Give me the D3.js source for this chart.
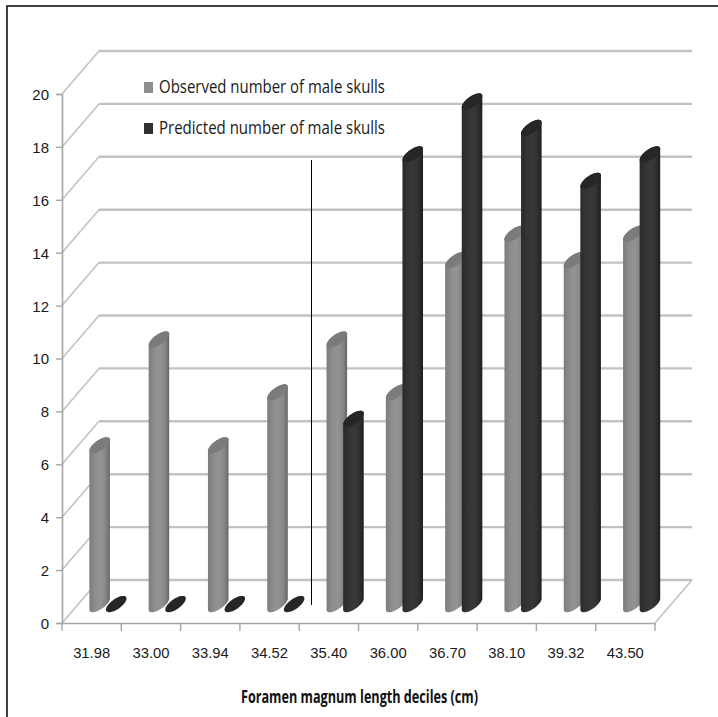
<!DOCTYPE html>
<html>
<head>
<meta charset="utf-8">
<script src="https://cdn.jsdelivr.net/npm/d3@7"></script>
<style>
  html, body { margin: 0; padding: 0; background: #fff; }
  svg { display: block; font-family: "Open Sans", Lato, "Liberation Sans", sans-serif; }
</style>
</head>
<body>
<svg id="chart" width="718" height="717"></svg>
<script>
const categories = ["31.98", "33.00", "33.94", "34.52", "35.40", "36.00", "36.70", "38.10", "39.32", "43.50"]
const observed = [6, 10, 6, 8, 10, 8, 13, 14, 13, 14]
const predicted = [0, 0, 0, 0, 7, 17, 19, 18, 16, 17]
const seriesNames = ["Observed number of male skulls", "Predicted number of male skulls"]
const yTicks = [0, 2, 4, 6, 8, 10, 12, 14, 16, 18, 20]
const xTitle = "Foramen magnum length deciles (cm)"

const svg = d3.select("#chart")

// oblique 3d: back wall is shifted by this vector
const dX = 37, dY = -43
const barDepth = 0.44   // bars stand at this fraction of floor depth

const x = d3.scaleBand().domain(categories).range([62, 655])
const y = d3.scaleLinear().domain([0, 20]).range([623, 94])

const gridColor = "#c2c2c2"

// page frame
svg.append("rect")
    .attr("x", 7).attr("y", 6)
    .attr("width", 740).attr("height", 740)
    .attr("fill", "none")
    .attr("stroke", "#111")
    .attr("stroke-width", 1.6)

// walls
const walls = svg.append("g")
walls.selectAll("line.diag")
    .data(yTicks)
    .join("line")
    .attr("class", "diag")
    .attr("x1", x.range()[0]).attr("y1", d => y(d))
    .attr("x2", x.range()[0] + dX).attr("y2", d => y(d) + dY)
    .attr("stroke", gridColor).attr("stroke-width", 1.6)

walls.selectAll("line.back")
    .data(yTicks)
    .join("line")
    .attr("class", "back")
    .attr("x1", x.range()[0] + dX).attr("y1", d => y(d) + dY)
    .attr("x2", x.range()[1] + dX).attr("y2", d => y(d) + dY)
    .attr("stroke", gridColor).attr("stroke-width", 2.4)

// floor right edge
walls.append("line")
    .attr("x1", x.range()[1]).attr("y1", y(0))
    .attr("x2", x.range()[1] + dX).attr("y2", y(0) + dY)
    .attr("stroke", gridColor).attr("stroke-width", 1.6)

// axes
const yAxis = svg.append("g").attr("transform", `translate(${x.range()[0]},0)`)
    .call(d3.axisLeft(y).tickValues(yTicks).tickSize(6).tickPadding(7).tickFormat(d3.format("d")))
const xAxis = svg.append("g").attr("transform", `translate(0,${y(0)})`)
    .call(d3.axisBottom(x).tickSize(0).tickPadding(24))

// category boundary ticks on x axis
xAxis.selectAll("line.bound")
    .data(d3.range(categories.length + 1))
    .join("line")
    .attr("class", "bound")
    .attr("x1", i => x.range()[0] + i * x.step()).attr("x2", i => x.range()[0] + i * x.step())
    .attr("y1", 0).attr("y2", 8)

;[yAxis, xAxis].forEach(a => {
    a.select(".domain").attr("stroke", "#a6a6a6").attr("stroke-width", 1.6)
    a.selectAll("line").attr("stroke", "#a6a6a6").attr("stroke-width", 1.4)
    a.selectAll("text").attr("fill", "#1a1a1a").style("font-size", "15px")
})
yAxis.selectAll("text").attr("dy", "0.36em")
xAxis.selectAll(".tick text").attr("textLength", 37).attr("lengthAdjust", "spacingAndGlyphs")

// gradients for the cylinders
const defs = svg.append("defs")
const palettes = [
    {id: "gObs", stops: ["#7c7c7c", "#8e8e8e", "#939393", "#868686", "#666666"], cap: "#7b7b7b", key: "#8e8e8e"},
    {id: "gPred", stops: ["#2a2a2a", "#353535", "#383838", "#303030", "#1d1d1d"], cap: "#262626", key: "#303030"}
]
palettes.forEach(p => {
    const lg = defs.append("linearGradient").attr("id", p.id)
        .attr("x1", 0).attr("x2", 1).attr("y1", 0).attr("y2", 0)
    lg.selectAll("stop").data(p.stops).join("stop")
        .attr("offset", (d, i) => [0, 0.3, 0.55, 0.8, 1][i])
        .attr("stop-color", d => d)
})

// cylinder geometry
const R = 7.5, k = 0.19
const th0 = Math.atan2(k * dX, R)
const ell = (cx, cy, t) => [cx + R * Math.cos(t) + k * dX * Math.sin(t), cy + k * dY * Math.sin(t)]
const line = d3.line()

function cylinder(g, cx, value, p) {
    const cyBase = y(0) + barDepth * dY
    const cyTop = y(value) + barDepth * dY
    const front = d3.range(0, 41).map(i => ell(cx, cyBase, th0 + Math.PI + Math.PI * i / 40))
    const back = d3.range(0, 41).map(i => ell(cx, cyTop, th0 + Math.PI * i / 40))
    if (value > 0) {
        g.append("path")
            .attr("d", line(front.concat(back)) + "Z")
            .attr("fill", `url(#${p.id})`)
    }
    const cap = d3.range(0, 61).map(i => ell(cx, cyTop, 2 * Math.PI * i / 60))
    g.append("path")
        .attr("d", line(cap) + "Z")
        .attr("fill", p.cap)
}

const bars = svg.append("g")
const offsets = [-8.3, 8.3]
categories.forEach((c, i) => {
    const center = x(c) + x.bandwidth() / 2 + barDepth * dX
    cylinder(bars, center + offsets[0], observed[i], palettes[0])
    cylinder(bars, center + offsets[1], predicted[i], palettes[1])
})

// thin stray line present in the figure
svg.append("line")
    .attr("x1", 311.5).attr("x2", 311.5)
    .attr("y1", 160).attr("y2", 605)
    .attr("stroke", "#000").attr("stroke-width", 1)

// legend
const legend = svg.append("g")
seriesNames.forEach((name, i) => {
    const ly = 93 + i * 41
    legend.append("rect")
        .attr("x", 144).attr("y", ly - 11)
        .attr("width", 9).attr("height", 11)
        .attr("fill", palettes[i].key)
    legend.append("text")
        .attr("x", 159).attr("y", ly)
        .attr("textLength", 226)
        .attr("lengthAdjust", "spacingAndGlyphs")
        .attr("fill", "#1a1a1a")
        .style("font-size", "17.5px")
        .text(name)
})

// x axis title
svg.append("text")
    .attr("x", 241).attr("y", 703)
    .attr("textLength", 237)
    .attr("lengthAdjust", "spacingAndGlyphs")
    .attr("fill", "#111")
    .style("font-size", "17.5px")
    .style("font-weight", "bold")
    .text(xTitle)
</script>
</body>
</html>
